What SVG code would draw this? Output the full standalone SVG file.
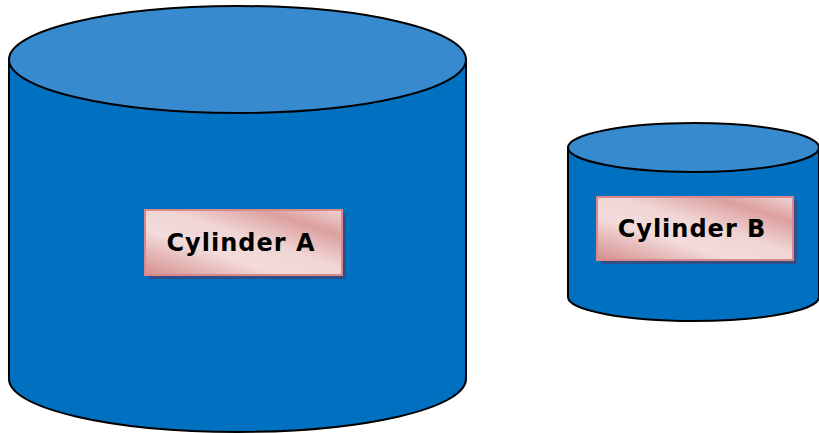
<svg xmlns="http://www.w3.org/2000/svg" width="819" height="433" viewBox="0 0 819 433">
<style>
.body{fill:#0070c0;stroke:#000;stroke-width:2}
.top{fill:#368acd;stroke:#000;stroke-width:2}
.shadow{fill:#2f4f86}
.box{fill:url(#pink);stroke:#d9898a;stroke-width:2}
.lbl{font-family:"DejaVu Sans","Liberation Sans",sans-serif;font-weight:bold;font-size:24px;letter-spacing:1px;fill:#000;text-anchor:middle;dominant-baseline:central}
</style>
<defs>
<linearGradient id="pink" x1="0" y1="1" x2="1" y2="0">
<stop offset="0" stop-color="#d48e8d"/>
<stop offset="0.35" stop-color="#f2dcdb"/>
<stop offset="0.55" stop-color="#f0d6d5"/>
<stop offset="0.8" stop-color="#dca09f"/>
<stop offset="1" stop-color="#efd3d2"/>
</linearGradient>
</defs>
<rect width="819" height="433" fill="#fff"/>
<g id="cylinderA">
<path class="body" d="M9,59.5 L9,379 A228.5,53 0 0 0 466,379 L466,59.5 Z"/>
<ellipse class="top" cx="237.5" cy="59.5" rx="228.5" ry="53.5"/>
<rect class="shadow" x="149" y="214" width="197" height="65"/>
<rect class="box" x="145" y="210" width="197" height="65"/>
<text class="lbl" x="241" y="243">Cylinder A</text>
</g>
<g id="cylinderB">
<path class="body" d="M568,147.5 L568,297 A125.5,24 0 0 0 819,297 L819,147.5 Z"/>
<ellipse class="top" cx="693.5" cy="147.5" rx="125.5" ry="24.5"/>
<rect class="shadow" x="601" y="201" width="196" height="63"/>
<rect class="box" x="597" y="197" width="196" height="63"/>
<text class="lbl" x="692" y="229">Cylinder B</text>
</g>
</svg>
